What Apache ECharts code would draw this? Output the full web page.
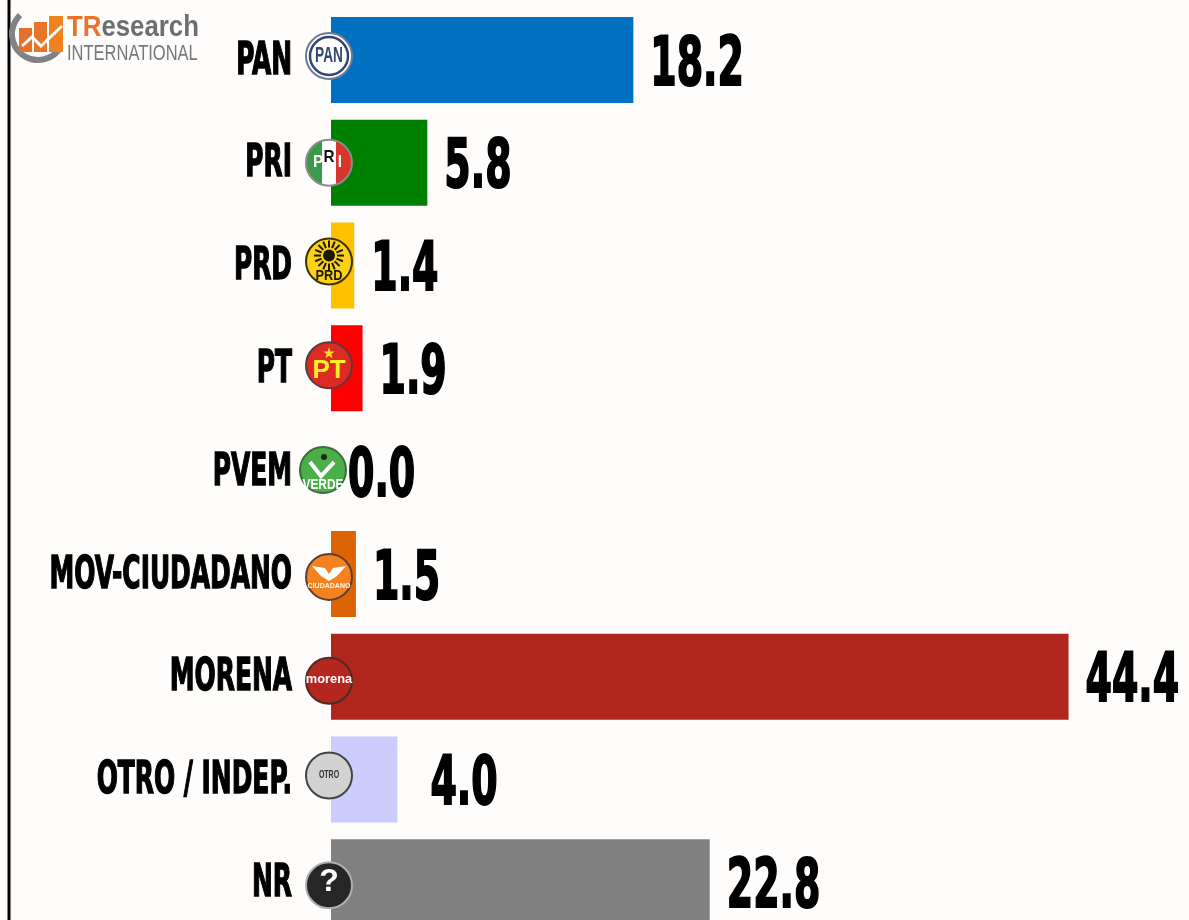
<!DOCTYPE html>
<html>
<head>
<meta charset="utf-8">
<title>Preferencia por partido</title>
<style>
  html, body { margin: 0; padding: 0; width: 1189px; height: 920px; overflow: hidden; background: #fefdfb; }
  #chart { width: 1189px; height: 960px; }
</style>
<script src="https://cdn.jsdelivr.net/npm/echarts@6/dist/echarts.min.js"></script>
</head>
<body>
<div id="chart"></div>
<script>
const categories = ['PAN', 'PRI', 'PRD', 'PT', 'PVEM', 'MOV-CIUDADANO', 'MORENA', 'OTRO / INDEP.', 'NR'];
const values = [18.2, 5.8, 1.4, 1.9, 0.0, 1.5, 44.4, 4.0, 22.8];
const barColors = ['#0070c0', '#008000', '#ffc000', '#ff0000', '#00b050', '#dd6405', '#b1261c', '#ccccff', '#808080'];

const FONT = '"DejaVu Sans Condensed", "DejaVu Sans", sans-serif';

// party badges, drawn over the start of each bar
const badgeStyles = {
  'PAN': { dx: -2, dy: -4, fill: '#ffffff', ring: '#6d7a92', inner: '#34466f', text: 'PAN', color: '#34466f', size: 22, sx: 0.62 },
  'PRI': { dx: -2, dy: 0, stripes: ['#3b9a4a', '#ffffff', '#d8362c'], ring: '#8a8a8a', letters: ['P', 'R', 'I'] },
  'PRD': { dx: -2, dy: -4, fill: '#fdd116', ring: '#3a3000', sun: true, text: 'PRD', color: '#1a1a00', size: 15, sx: 0.85, ty: 14 },
  'PT': { dx: -2, dy: -3, fill: '#dd2a23', ring: '#5a3a3a', star: true, text: 'PT', color: '#fff01f', size: 26, sx: 1, ty: 6 },
  'PVEM': { dx: -8, dy: -1, fill: '#4cae48', ring: '#3b6b3b', text: 'VERDE', color: '#ffffff', size: 14, sx: 0.85, ty: 15, check: true },
  'MOV-CIUDADANO': { dx: -2, dy: 3, fill: '#f58220', ring: '#5a4030', wings: true, text: 'CIUDADANO', color: '#fff3e0', size: 7, sx: 1, ty: 9 },
  'MORENA': { dx: -2, dy: 4, fill: '#b5261e', ring: '#4d2a28', text: 'morena', color: '#ffffff', size: 13.5, sx: 0.95, ty: -1 },
  'OTRO / INDEP.': { dx: -2, dy: -4, fill: '#d2d2d2', ring: '#444444', text: 'OTRO', color: '#333333', size: 10, sx: 0.7 },
  'NR': { dx: -2, dy: 3, fill: '#262626', ring: '#b0b0b0', text: '?', color: '#ffffff', size: 32, sx: 1, ty: -3 }
};

function centeredText(text, x, y, size, color, sx) {
  return {
    type: 'text',
    x: x,
    y: y,
    scaleX: sx,
    style: {
      text: text,
      fill: color,
      font: 'bold ' + size + 'px "Liberation Sans", sans-serif',
      textAlign: 'center',
      textVerticalAlign: 'middle'
    }
  };
}

function drawBadge(name, x, y) {
  const b = badgeStyles[name];
  const r = 23;
  const parts = [];
  const fill = b.stripes ? {
    type: 'linear', x: 0, y: 0, x2: 1, y2: 0,
    colorStops: [
      { offset: 0, color: b.stripes[0] }, { offset: 0.36, color: b.stripes[0] },
      { offset: 0.36, color: b.stripes[1] }, { offset: 0.64, color: b.stripes[1] },
      { offset: 0.64, color: b.stripes[2] }, { offset: 1, color: b.stripes[2] }
    ]
  } : b.fill;
  parts.push({ type: 'circle', shape: { cx: x, cy: y, r: r }, style: { fill: fill, stroke: b.ring, lineWidth: 2 } });
  if (b.inner) {
    parts.push({ type: 'circle', shape: { cx: x, cy: y, r: r - 4 }, style: { fill: 'none', stroke: b.inner, lineWidth: 2.5 } });
  }
  if (b.letters) {
    parts.push(centeredText(b.letters[0], x - 11, y, 17, '#ffffff', 0.9));
    parts.push(centeredText(b.letters[1], x, y - 5, 17, '#111111', 0.9));
    parts.push(centeredText(b.letters[2], x + 11, y, 17, '#ffffff', 0.9));
  }
  if (b.sun) {
    for (let i = 0; i < 16; i++) {
      const a = i * Math.PI / 8;
      parts.push({
        type: 'line',
        shape: { x1: x + 8 * Math.cos(a), y1: y - 6 + 8 * Math.sin(a), x2: x + 15 * Math.cos(a), y2: y - 6 + 15 * Math.sin(a) },
        style: { stroke: '#1a1a00', lineWidth: 2 }
      });
    }
    parts.push({ type: 'circle', shape: { cx: x, cy: y - 6, r: 6 }, style: { fill: '#1a1a00' } });
  }
  if (b.star) {
    const pts = [];
    for (let i = 0; i < 10; i++) {
      const a = -Math.PI / 2 + i * Math.PI / 5;
      const s = i % 2 ? 2.4 : 6;
      pts.push([x + s * Math.cos(a), y - 12 + s * Math.sin(a)]);
    }
    parts.push({ type: 'polygon', shape: { points: pts }, style: { fill: '#ffe01f' } });
  }
  if (b.check) {
    parts.push({
      type: 'polyline',
      shape: { points: [[x - 13, y - 8], [x - 2, y + 6], [x + 11, y - 8]] },
      style: { fill: 'none', stroke: '#ffffff', lineWidth: 4 }
    });
    parts.push({ type: 'circle', shape: { cx: x + 1, cy: y - 13, r: 3 }, style: { fill: '#1f2a12' } });
  }
  if (b.wings) {
    parts.push({
      type: 'polygon',
      shape: { points: [[x - 17, y - 11], [x - 4, y - 9], [x, y - 3], [x + 4, y - 9], [x + 17, y - 11], [x + 8, y - 1], [x, y + 4], [x - 8, y - 1]] },
      style: { fill: '#ffffff' }
    });
  }
  parts.push(centeredText(b.text || '', x, y + (b.ty || 0), b.size || 10, b.color || '#000', b.sx || 1));
  return parts;
}

const chart = echarts.init(document.getElementById('chart'));
chart.setOption({
  backgroundColor: '#fefdfb',
  animation: false,
  grid: { left: 331, right: 0, top: 8.6, height: 925 },
  xAxis: { type: 'value', min: 0, max: 51.65, show: false },
  yAxis: { type: 'category', inverse: true, data: categories, show: false },
  graphic: [
    // left rule
    { type: 'line', shape: { x1: 9, y1: 0, x2: 9, y2: 920 }, style: { stroke: '#000000', lineWidth: 3 } },
    // logo
    {
      type: 'arc', shape: { cx: 38, cy: 34, r: 26, startAngle: 0.5, endAngle: 3.95 },
      style: { fill: 'none', stroke: '#808285', lineWidth: 6 }
    },
    { type: 'rect', shape: { x: 19, y: 28, width: 13, height: 24 }, style: { fill: '#e5702a' } },
    { type: 'rect', shape: { x: 34, y: 22, width: 13, height: 30 }, style: { fill: '#e8752a' } },
    { type: 'rect', shape: { x: 49, y: 16, width: 14, height: 36 }, style: { fill: '#f0821f' } },
    {
      type: 'polyline', shape: { points: [[22, 46], [32, 37], [41, 46], [62, 26]] },
      style: { fill: 'none', stroke: '#ffffff', lineWidth: 3 }
    },
    {
      type: 'text', x: 67, y: 28, scaleX: 0.89,
      style: {
        text: '{a|TR}{b|esearch}',
        rich: {
          a: { fill: '#e8752a', font: 'bold 29px "Liberation Sans", sans-serif' },
          b: { fill: '#6d6e71', font: 'bold 29px "Liberation Sans", sans-serif' }
        },
        verticalAlign: 'middle'
      }
    },
    {
      type: 'text', x: 67, y: 54, scaleX: 0.75,
      style: {
        text: 'INTERNATIONAL',
        fill: '#77787b',
        font: '22px "Liberation Sans", sans-serif',
        verticalAlign: 'middle'
      }
    }
  ],
  series: [
    {
      type: 'bar',
      barWidth: 86,
      z: 2,
      data: values.map((v, i) => ({ value: v, itemStyle: { color: barColors[i] } }))
    },
    {
      // party names
      type: 'custom',
      z: 3,
      data: categories.map((c, i) => [0, i]),
      renderItem: (params, api) => {
        const p = api.coord([0, api.value(1)]);
        return {
          type: 'text',
          x: p[0] - 39,
          y: p[1] + 2,
          scaleX: 0.615,
          style: {
            text: categories[params.dataIndex],
            fill: '#000000',
            stroke: '#000000',
            lineWidth: 1.4,
            font: 'bold 45px ' + FONT,
            textAlign: 'right',
            textVerticalAlign: 'middle'
          }
        };
      }
    },
    {
      // badges
      type: 'custom',
      z: 4,
      data: categories.map((c, i) => [0, i]),
      renderItem: (params, api) => {
        const p = api.coord([0, api.value(1)]);
        const b = badgeStyles[categories[params.dataIndex]];
        return { type: 'group', children: drawBadge(categories[params.dataIndex], p[0] + b.dx, p[1] + b.dy) };
      }
    },
    {
      // value labels
      type: 'custom',
      z: 5,
      data: values.map((v, i) => [v, i]),
      renderItem: (params, api) => {
        const p = api.coord([api.value(0), api.value(1)]);
        const gap = categories[params.dataIndex] === 'OTRO / INDEP.' ? 33 : 17;
        return {
          type: 'text',
          x: p[0] + gap,
          y: p[1] + 7,
          scaleX: 0.62,
          style: {
            text: values[params.dataIndex].toFixed(1),
            fill: '#000000',
            stroke: '#000000',
            lineWidth: 2,
            font: 'bold 68px ' + FONT,
            textAlign: 'left',
            textVerticalAlign: 'middle'
          }
        };
      }
    }
  ]
});
</script>
</body>
</html>
